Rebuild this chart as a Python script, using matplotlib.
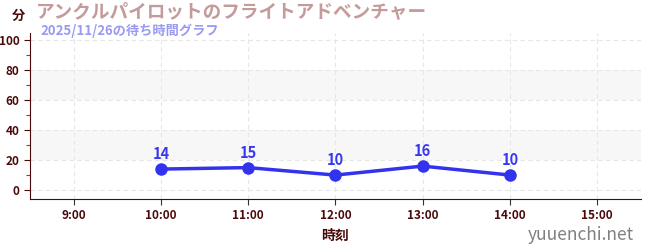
import matplotlib
matplotlib.use("Agg")
import matplotlib.pyplot as plt
from matplotlib.ticker import FixedLocator

plt.rcParams['font.family'] = ['Noto Sans CJK JP', 'DejaVu Sans']

hours = [10, 11, 12, 13, 14]
waits = [14, 15, 10, 16, 10]
tick_hours = [9, 10, 11, 12, 13, 14, 15]
tick_labels = ["9:00", "10:00", "11:00", "12:00", "13:00", "14:00", "15:00"]
title = "アンクルパイロットのフライトアドベンチャー"
subtitle = "2025/11/26の待ち時間グラフ"

fig = plt.figure(figsize=(6.5, 2.5), dpi=100)
ax = fig.add_axes([0.046, 0.204, 0.94, 0.664])
ax.set_xlim(8.5, 15.5)
ax.set_ylim(-6, 105)

for lo, hi in [(20, 40), (60, 80)]:
    ax.axhspan(lo, hi, color='#f7f7f7', zorder=0, lw=0)

ax.yaxis.set_major_locator(FixedLocator([0, 20, 40, 60, 80, 100]))
ax.yaxis.set_minor_locator(FixedLocator([10, 30, 50, 70, 90]))
ax.xaxis.set_major_locator(FixedLocator(tick_hours))
ax.set_xticklabels(tick_labels)
ax.grid(True, which='major', color='#e6e6e6', ls=(0, (4, 3)), lw=0.8)

dark = '#4a0a0a'
for s in ['top', 'right']:
    ax.spines[s].set_visible(False)
ax.spines['left'].set_color(dark)
ax.spines['bottom'].set_color(dark)
ax.tick_params(axis='both', which='major', colors=dark, labelsize=8.5, length=4, width=0.8)
ax.tick_params(axis='y', which='minor', colors='#cc2222', length=3, width=0.8)
ax.tick_params(axis='x', colors='#333333', labelcolor=dark)
for lbl in ax.get_xticklabels() + ax.get_yticklabels():
    lbl.set_fontweight('bold')

ax.plot(hours, waits, color='#3333ee', lw=2.5, marker='o', ms=8, zorder=3)
for h, w in zip(hours, waits):
    ax.annotate(str(w), (h, w), xytext=(0, 5), textcoords='offset points',
                ha='center', va='bottom', color='#3838f0', fontsize=10.5, fontweight='bold')

ax.set_xlabel("時刻", color=dark, fontsize=10, fontweight='bold', labelpad=5)

fig.text(0.018, 0.935, "分", color=dark, fontsize=9.5, fontweight='bold', va='center')
fig.text(0.055, 0.952, title, color='#c49a9a', fontsize=13.4, fontweight='bold', va='center')
fig.text(0.062, 0.878, subtitle, color='#9a9af0', fontsize=9.5, fontweight='bold', va='center')
fig.text(0.975, 0.062, "yuuenchi.net", color='#808080', fontsize=12.5, ha='right', va='center')

fig.savefig("out.png", dpi=100)
